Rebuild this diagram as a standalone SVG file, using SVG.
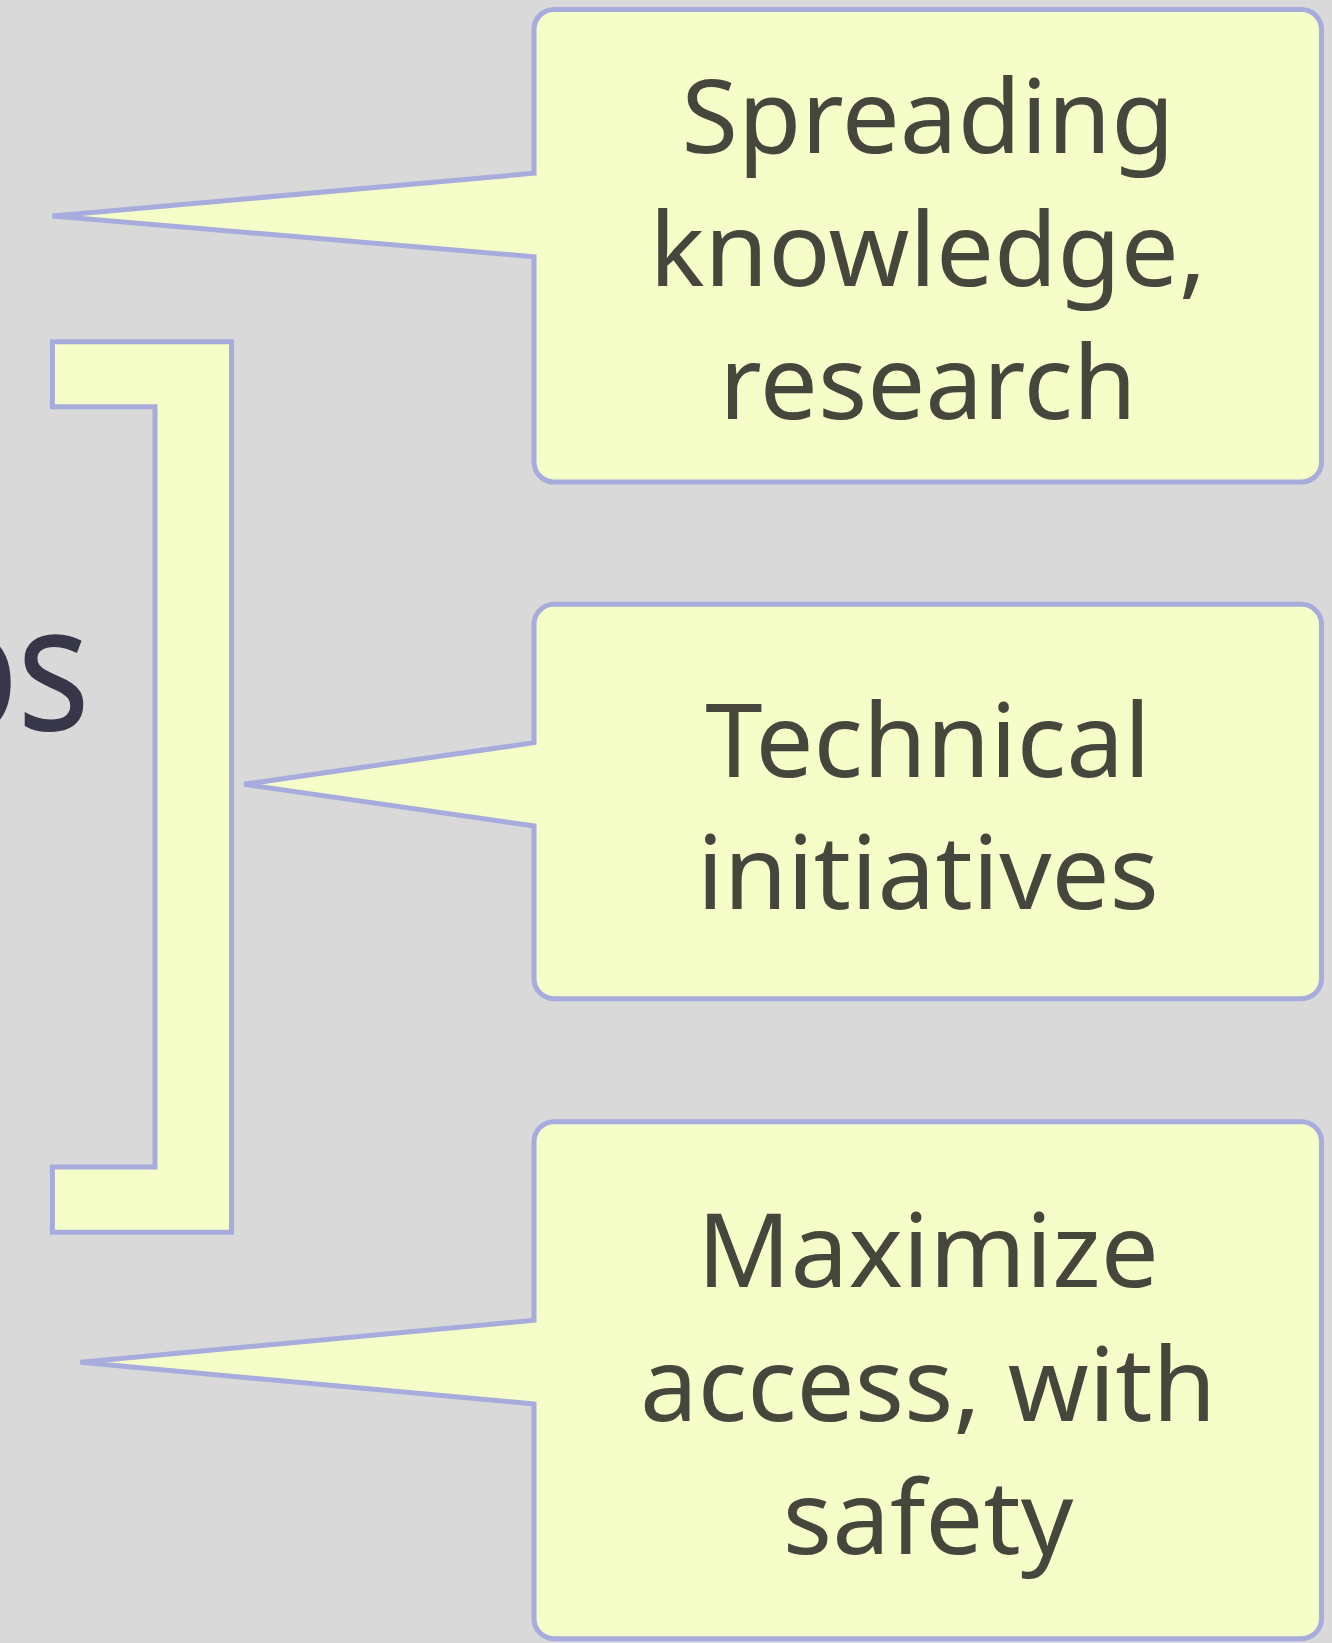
<svg xmlns="http://www.w3.org/2000/svg" width="1332" height="1643" viewBox="0 0 1332 1643">
<style>
.shape{fill:#f5fdc8;stroke:#a8acdd;stroke-width:5;stroke-linejoin:miter;stroke-miterlimit:4}
.lbl{font-family:"Noto Sans","Open Sans","DejaVu Sans",sans-serif;font-size:103px;fill:#46463d;text-anchor:middle}
.title{font-family:"Noto Sans","Open Sans","DejaVu Sans",sans-serif;font-size:176px;fill:#373749;text-anchor:end}
</style>
<rect x="0" y="0" width="1332" height="1643" fill="#d9d9d9"/>
<g id="title">
<text class="title" transform="translate(19,730) scale(0.87,1)" x="0" y="0">o</text>
<text class="title" transform="translate(90,730) scale(0.87,1)" x="0" y="0">s</text>
</g>
<g id="connectors">
<path id="bracket" class="shape" d="M52.4,341.7 H231.5 V1232.3 H52.4 V1167 H155 V406.7 H52.4 Z"/>
</g>
<g id="node1">
<path class="shape" d="M554,9.5 H1301.5 A20,20 0 0 1 1321.5,29.5 V462 A20,20 0 0 1 1301.5,482 H554 A20,20 0 0 1 534,462 V256.7 L52.4,216 L534,173.3 V29.5 A20,20 0 0 1 554,9.5 Z"/>
<text class="lbl" x="928" y="152.7">Spreading</text>
<text class="lbl" x="928" y="286">knowledge,</text>
<text class="lbl" x="928" y="419.3">research</text>
</g>
<g id="node2">
<path class="shape" d="M554,604.3 H1301.5 A20,20 0 0 1 1321.5,624.3 V978.7 A20,20 0 0 1 1301.5,998.7 H554 A20,20 0 0 1 534,978.7 V826 L244,784.3 L534,742.7 V624.3 A20,20 0 0 1 554,604.3 Z"/>
<text class="lbl" x="928" y="776.7">Technical</text>
<text class="lbl" x="928" y="909.3">initiatives</text>
</g>
<g id="node3">
<path class="shape" d="M554,1121.7 H1301.5 A20,20 0 0 1 1321.5,1141.7 V1618.7 A20,20 0 0 1 1301.5,1638.7 H554 A20,20 0 0 1 534,1618.7 V1404 L80.4,1362.3 L534,1320.3 V1141.7 A20,20 0 0 1 554,1121.7 Z"/>
<text class="lbl" x="928" y="1287.2">Maximize</text>
<text class="lbl" x="928" y="1420.5">access, with</text>
<text class="lbl" x="928" y="1553.8">safety</text>
</g>
</svg>
